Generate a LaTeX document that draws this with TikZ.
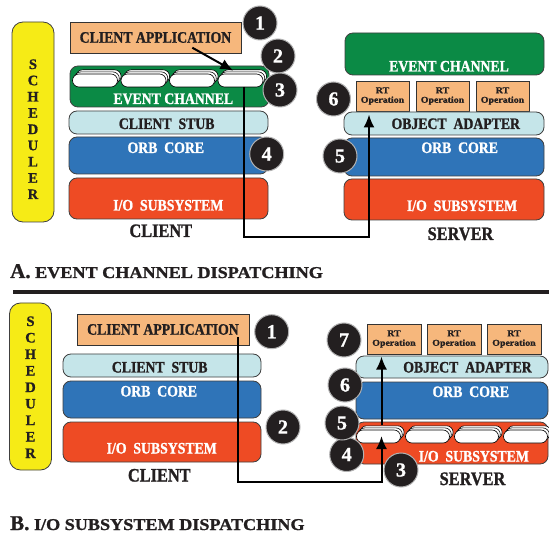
\documentclass[tikz,border=0pt]{standalone}
\usepackage{fontspec}
\setmainfont{Liberation Serif}
\newfontfamily\layerfont[FakeStretch=0.86,FakeBold=1.2]{Liberation Serif Bold}
\newfontfamily\widefont[FakeStretch=1.1,FakeBold=1.2]{Liberation Serif Bold}
\newfontfamily\plainbold[FakeBold=1]{Liberation Serif Bold}
\usetikzlibrary{arrows.meta,shadows}

\definecolor{appfill}{HTML}{F6B77C}
\definecolor{chanfill}{HTML}{0B8A45}
\definecolor{stubfill}{HTML}{C5E5E9}
\definecolor{corefill}{HTML}{2F74B8}
\definecolor{iofill}{HTML}{EE4B24}
\definecolor{schedfill}{HTML}{F6EB16}
\definecolor{inkdark}{HTML}{231F20}

\begin{document}
\begin{tikzpicture}[
  x=1pt, y=-1pt,
  layer node/.style={
    draw=black!75,
    line width=0.8pt,
    rounded corners=8pt,
    inner sep=0pt,
  },
  sched node/.style={layer node, fill=schedfill, rounded corners=11pt, minimum width=42pt},
  sched letter/.style={anchor=base, inner sep=0pt, text=inkdark,
    font=\plainbold\fontsize{14.5}{14.5}\selectfont},
  app node/.style={draw=black!80, line width=0.8pt, fill=appfill, inner sep=0pt,
    minimum height=31pt, text=inkdark,
    font=\layerfont\fontsize{16}{16}\selectfont},
  rt node/.style={draw=black!80, line width=0.6pt, fill=appfill, inner sep=0pt,
    minimum width=53pt, minimum height=30pt, align=center, text=inkdark,
    font=\widefont\fontsize{9}{9.5}\selectfont},
  pill node/.style={draw=black, line width=0.6pt, fill=white, rounded corners=6.5pt,
    minimum width=45pt, minimum height=13pt, inner sep=0pt,
    double copy shadow={shadow xshift=1.8pt, shadow yshift=2.1pt,
      fill=white, draw=black, line width=0.6pt}},
  layer text/.style={anchor=base, inner sep=0pt,
    font=\layerfont\fontsize{16}{16}\selectfont},
  white text/.style={layer text, text=white},
  dark text/.style={layer text, text=inkdark},
  side text/.style={anchor=base, inner sep=0pt, text=inkdark,
    font=\layerfont\fontsize{19}{19}\selectfont},
  num node/.style={circle, fill=inkdark, draw=black!30, line width=1pt,
    minimum size=34pt, inner sep=0pt, text=white,
    font=\plainbold\fontsize{20}{20}\selectfont},
  caption/.style={anchor=base west, inner sep=0pt, text=inkdark,
    font=\widefont\fontsize{16.5}{16.5}\selectfont},
  flow/.style={line width=2pt, -{Latex[length=13pt,width=11pt]}},
  rule line/.style={line width=4pt, inkdark},
  ]
  \useasboundingbox[fill=white] (0,0) rectangle (549,537);

  % A. event channel dispatching
  \begin{scope}
    \node[sched node, minimum height=200pt] (a-sched) at (33,122) {};
    \foreach \l [count=\i from 0] in {S,C,H,E,D,U,L,E,R}
      \node[sched letter] (a-sched-\i) at (33,69+16.25*\i) {\l};

    \node[app node, minimum width=171pt] (a-app) at (155.5,37.5) {CLIENT APPLICATION};

    \node[layer node, fill=chanfill, minimum width=199pt, minimum height=41pt] (a-client-chan) at (169.5,86.5) {};
    \foreach \x [count=\i] in {95,143.5,192,240.5}
      \node[pill node] (a-pill-\i) at (\x,80.5) {};
    \node[white text] (a-client-chan-text) at (173.3,104) {EVENT CHANNEL};
    \node[layer node, fill=stubfill, minimum width=199pt, minimum height=23pt] (a-client-stub) at (168.5,122.5) {};
    \node[dark text] (a-client-stub-text) at (166.7,129) {CLIENT\ \ STUB};
    \node[layer node, fill=corefill, minimum width=199pt, minimum height=37pt] (a-client-core) at (168.5,155.5) {};
    \node[white text] (a-client-core-text) at (165.8,153) {ORB\ \ CORE};
    \node[layer node, fill=iofill, minimum width=199pt, minimum height=41pt] (a-client-io) at (168.5,198.5) {};
    \node[white text] (a-client-io-text) at (168.3,210.5) {I/O\ \ SUBSYSTEM};
    \node[side text] (a-client-name) at (160.8,237) {CLIENT};

    \node[layer node, fill=chanfill, minimum width=199pt, minimum height=42pt] (a-server-chan) at (444.5,54) {};
    \node[white text] (a-server-chan-text) at (449,71.5) {EVENT CHANNEL};
    \foreach \x [count=\i] in {382.5,442.5,502.5}
      \node[rt node] (a-rt-\i) at (\x,96) {RT\\Operation};
    \node[layer node, fill=stubfill, minimum width=200pt, minimum height=23pt] (a-server-oa) at (444,123.5) {};
    \node[dark text] (a-server-oa-text) at (455.8,129) {OBJECT\ \ ADAPTER};
    \node[layer node, fill=corefill, minimum width=200pt, minimum height=38pt] (a-server-core) at (444,157) {};
    \node[white text] (a-server-core-text) at (459.7,153) {ORB\ \ CORE};
    \node[layer node, fill=iofill, minimum width=200pt, minimum height=41pt] (a-server-io) at (444,199.5) {};
    \node[white text] (a-server-io-text) at (462,211) {I/O\ \ SUBSYSTEM};
    \node[side text] (a-server-name) at (460.5,240) {SERVER};

    \coordinate (a-send)  at (192.3,47.7);
    \coordinate (a-push)  at (233.3,70.7);
    \coordinate (a-leave) at (244.3,87);
    \coordinate (a-turn)  at (369,237);
    \coordinate (a-recv)  at (369,114.5);
    \draw[flow] (a-send) -- (a-push);
    \draw[flow] (a-leave) |- (a-turn) -- (a-recv);

    \node[num node] (a-num-1) at (260,23)    {1};
    \node[num node] (a-num-2) at (278,56)    {2};
    \node[num node] (a-num-3) at (280,90)    {3};
    \node[num node] (a-num-4) at (266.7,154) {4};
    \node[num node] (a-num-5) at (340,156)   {5};
    \node[num node] (a-num-6) at (333.5,99)  {6};

    \node[caption] (a-caption) at (10,278) {{\plainbold\fontsize{21}{21}\selectfont A.} EVENT CHANNEL DISPATCHING};
  \end{scope}

  \coordinate (rule-w) at (13,292.5);
  \coordinate (rule-e) at (549,292.5);
  \draw[rule line] (rule-w) -- (rule-e);

  % B. I/O subsystem dispatching
  \begin{scope}
    \node[sched node, minimum height=167pt] (b-sched) at (30.5,386.5) {};
    \foreach \l [count=\i from 0] in {S,C,H,E,D,U,L,E,R}
      \node[sched letter] (b-sched-\i) at (30.5,326+16.5*\i) {\l};

    \node[app node, minimum width=172pt] (b-app) at (163,329.5) {CLIENT APPLICATION};

    \node[layer node, fill=stubfill, minimum width=198pt, minimum height=23pt] (b-client-stub) at (162,365.5) {};
    \node[dark text] (b-client-stub-text) at (159.7,372.5) {CLIENT\ \ STUB};
    \node[layer node, fill=corefill, minimum width=198pt, minimum height=37pt] (b-client-core) at (162,399.5) {};
    \node[white text] (b-client-core-text) at (158.8,396.5) {ORB\ \ CORE};
    \node[layer node, fill=iofill, minimum width=198pt, minimum height=40pt] (b-client-io) at (162,442) {};
    \node[white text] (b-client-io-text) at (161.7,453.5) {I/O\ \ SUBSYSTEM};
    \node[side text] (b-client-name) at (159.3,481.5) {CLIENT};

    \foreach \x [count=\i] in {394,454,514}
      \node[rt node, minimum width=54pt] (b-rt-\i) at (\x,339) {RT\\Operation};
    \node[layer node, fill=stubfill, minimum width=192pt, minimum height=22pt] (b-server-oa) at (452,367) {};
    \node[dark text] (b-server-oa-text) at (467.5,372.5) {OBJECT\ \ ADAPTER};
    \node[layer node, fill=corefill, minimum width=192pt, minimum height=37pt] (b-server-core) at (452,400.5) {};
    \node[white text] (b-server-core-text) at (470.8,397) {ORB\ \ CORE};
    \node[layer node, fill=iofill, minimum width=192pt, minimum height=42pt] (b-server-io) at (452,443) {};
    \foreach \x [count=\i] in {378.5,427.5,476.5,525.5}
      \node[pill node, minimum width=44pt] (b-pill-\i) at (\x,436.5) {};
    \node[white text] (b-server-io-text) at (473.8,461.5) {I/O\ \ SUBSYSTEM};
    \node[side text] (b-server-name) at (472.5,485) {SERVER};

    \coordinate (b-send)  at (237.5,337);
    \coordinate (b-turn)  at (381.5,481.5);
    \coordinate (b-push)  at (381.5,436);
    \coordinate (b-leave) at (381.5,425);
    \coordinate (b-recv)  at (381.5,356.5);
    \draw[flow] (b-send) |- (b-turn) -- (b-push);
    \draw[flow] (b-leave) -- (b-recv);

    \node[num node] (b-num-1) at (271.7,331.7) {1};
    \node[num node] (b-num-2) at (283,427)     {2};
    \node[num node] (b-num-3) at (401,470)     {3};
    \node[num node] (b-num-4) at (346.7,454.5) {4};
    \node[num node] (b-num-5) at (342,423)     {5};
    \node[num node] (b-num-6) at (345,385)     {6};
    \node[num node] (b-num-7) at (344,340)     {7};

    \node[caption] (b-caption) at (10,530) {{\plainbold\fontsize{21}{21}\selectfont B.} I/O SUBSYSTEM DISPATCHING};
  \end{scope}
\end{tikzpicture}
\end{document}
